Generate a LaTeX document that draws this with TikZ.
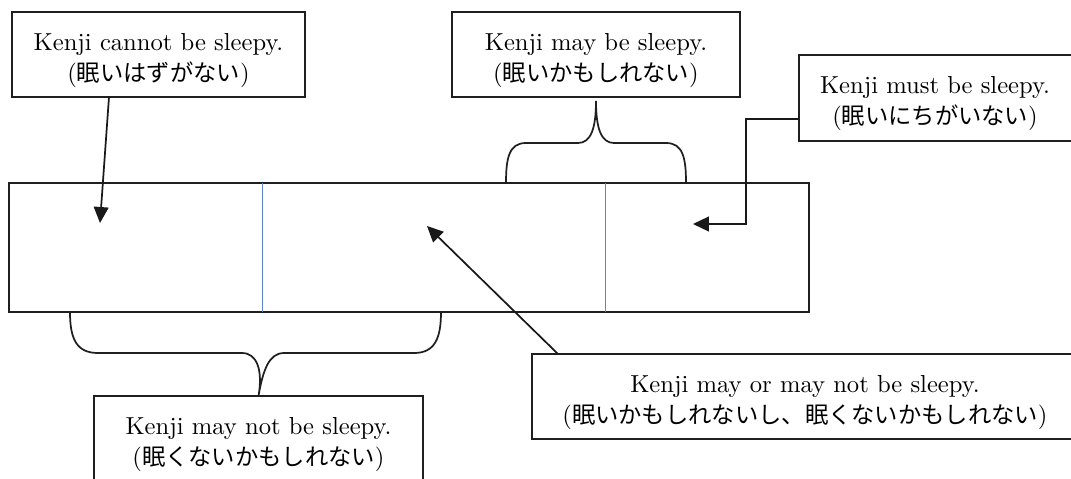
\documentclass[tikz,border=0pt]{standalone}
\usepackage{fontspec}
\newfontfamily\jp{Noto Sans CJK JP}
\usetikzlibrary{arrows.meta,calc}
\definecolor{dividerblue}{RGB}{91,134,196}
% one drawing unit
\def\pxu{0.4065pt}
% Japanese gloss in parentheses
\newcommand\gloss[1]{({\jp\fontsize{9.47}{11}\selectfont #1})}
\tikzset{
  callbox/.style={draw=black!88, line width=0.8pt, minimum height=85*\pxu,
    inner sep=0pt, outer sep=0pt},
  scalebox/.style={draw=black!88, line width=0.8pt, minimum width=800*\pxu,
    minimum height=129*\pxu, inner sep=0pt, outer sep=0pt},
  en/.style={anchor=base, inner sep=0pt, font=\fontsize{10}{12}\selectfont},
  ja/.style={anchor=base, inner sep=0pt, font=\fontsize{10}{12}\selectfont},
  arr/.style={draw=black!90, line width=0.7pt, -{Triangle[length=6.5pt,width=6pt]}},
  brace/.style={draw=black!88, line width=0.7pt},
  divider/.style={draw=dividerblue, line width=0.4pt},
}
\begin{document}
\begin{tikzpicture}[x=\pxu, y=-\pxu]
\useasboundingbox (0,0) rectangle (1071,478);
\clip (0,0) rectangle (1071,478);

% the scale of certainty, split in three zones
\node[scalebox] (scale) at (409,247.5) {};
\coordinate (d1top) at (262,183);
\coordinate (d1bot) at (262,312);
\coordinate (d2top) at (605,183);
\coordinate (d2bot) at (605,312);
\draw[divider] (d1top) -- (d1bot);
\draw[divider] (d2top) -- (d2bot);

% callouts
\node[callbox, minimum width=293*\pxu] (cannot) at (158.5,54.5) {};
\node[en] (cannotEn) at ($(cannot.north)+(0,38)$) {Kenji cannot be sleepy.};
\node[ja] (cannotJa) at ($(cannot.north)+(0,69.5)$) {\gloss{眠いはずがない}};

\node[callbox, minimum width=288*\pxu] (may) at (596,54.5) {};
\node[en] (mayEn) at ($(may.north)+(0,38)$) {Kenji may be sleepy.};
\node[ja] (mayJa) at ($(may.north)+(0,69.5)$) {\gloss{眠いかもしれない}};

\node[callbox, minimum width=300*\pxu, minimum height=86*\pxu] (must) at (949,98) {};
\node[en] (mustEn) at (935,93) {Kenji must be sleepy.};
\node[ja] (mustJa) at (935,124.5) {\gloss{眠いにちがいない}};

\node[callbox, minimum width=329*\pxu] (maynot) at (258.5,438.5) {};
\node[en] (maynotEn) at ($(maynot.north)+(0,38)$) {Kenji may not be sleepy.};
\node[ja] (maynotJa) at ($(maynot.north)+(0,69.5)$) {\gloss{眠くないかもしれない}};

\node[callbox, minimum width=546*\pxu] (mix) at (805,396.5) {};
\node[en] (mixEn) at ($(mix.north)+(0,38)$) {Kenji may or may not be sleepy.};
\node[ja] (mixJa) at ($(mix.north)+(0,69.5)$) {\gloss{眠いかもしれないし、眠くないかもしれない}};

% arrows into the zones
\coordinate (tipA) at (100,223);
\coordinate (bendB) at (746,224);
\coordinate (tipB) at (693,224);
\coordinate (tipC) at (427,226);
\draw[arr] ($(cannot.south)+(-49.5,0)$) -- (tipA);
\draw[arr, line width=0.85pt] ($(must.west)+(0,21)$) -| (bendB) -- (tipB);
\draw[arr] ($(mix.north)+(-247,0)$) -- (tipC);

% braces grouping zones
\draw[brace] (506,183) .. controls (506,158) and (509,143) .. (526,143)
  -- (578,143) .. controls (591,143) and (596,128) .. ($(may.south)+(0,4)$)
  .. controls (596,128) and (601,143) .. (614,143)
  -- (666,143) .. controls (683,143) and (686,158) .. (686,183);
\draw[brace] (70,312) .. controls (70,338) and (76,353) .. (98,353)
  -- (242,353) .. controls (257,353) and (263,370) .. (maynot.north)
  .. controls (263,370) and (269,353) .. (284,353)
  -- (414,353) .. controls (435,353) and (441,338) .. (441,312);
\end{tikzpicture}
\end{document}
